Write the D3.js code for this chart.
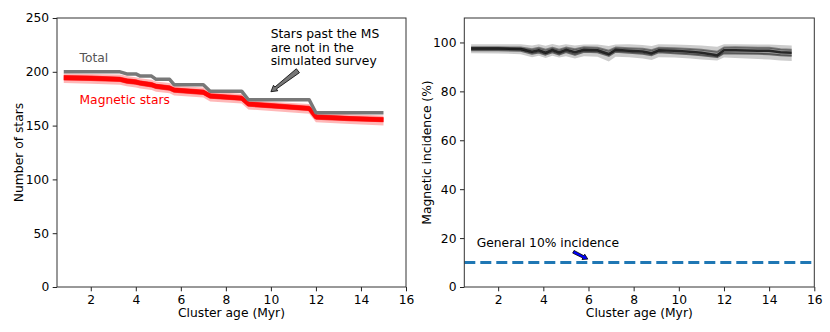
<!DOCTYPE html>
<html>
  <script src='https://d3js.org/d3.v7.min.js'></script>
  <style>
    body { margin: 0; background: #fff; }
    text { font-family: "DejaVu Sans", sans-serif; }
  </style>
  <body onload='init()'>
<script>
      // ---------------------------
      // DATA
      // ---------------------------
      // left panel: number of stars
      var ages     = [0.8, 2.0, 3.3, 3.6, 4.0, 4.2, 4.7, 4.9, 5.5, 5.7, 7.0, 7.3, 8.7, 9.0, 11.7, 12.0, 13.5, 15.0];
      var total    = [200, 200, 200, 198, 198, 196, 196, 193, 193, 188, 188, 182, 182, 174, 174, 162, 162, 162];
      var magMid   = [194.5, 194, 193, 191.5, 190.5, 189.5, 188, 186.5, 185, 183, 181, 177.5, 175.5, 170, 166, 158, 156.5, 155.5];
      var magHigh  = [198.5, 198, 197.5, 196, 195, 194, 192.5, 191, 189.5, 187, 185.5, 181.5, 179.5, 173.5, 170, 162, 160.5, 159.5];
      var magLow   = [189.5, 189, 188, 186.5, 185.5, 184.5, 183, 181.5, 180, 178, 176, 172.5, 170.5, 165, 161, 153, 151.5, 150];
      var magCoreHi = [197, 196.5, 195.5, 194, 193, 192, 190.5, 189, 187.5, 185.5, 183.5, 180, 178, 172.5, 168.5, 160.5, 159, 158];
      var magCoreLo = [192, 191.5, 190.5, 189, 188, 187, 185.5, 184, 182.5, 180.5, 178.5, 175, 173, 167.5, 163.5, 155.5, 154, 153];

      // right panel: magnetic incidence (%)
      var incAges  = [0.8, 2.0, 3.0, 3.5, 3.8, 4.1, 4.4, 4.7, 5.0, 5.4, 5.8, 6.4, 6.9, 7.2, 7.8, 8.4, 8.8, 9.1, 9.8, 10.5, 11.0, 11.7, 12.0, 12.5, 13.5, 14.0, 14.5, 15.0];
      var incMid   = [97.5, 97.5, 97.3, 96.2, 96.8, 95.8, 96.9, 95.9, 97.0, 96.0, 97.0, 96.8, 95.3, 97.0, 96.6, 96.3, 95.6, 96.8, 96.6, 96.2, 95.8, 94.8, 96.8, 96.8, 96.6, 96.6, 96.0, 95.8];
      var incLine2 = [96.8, 96.8, 96.6, 95.4, 95.9, 95.0, 96.0, 95.0, 96.1, 95.0, 96.2, 96.0, 94.5, 96.2, 95.8, 95.4, 94.8, 96.0, 95.6, 95.2, 94.8, 94.0, 95.6, 95.5, 95.4, 95.2, 94.8, 94.6];
      var incLine3 = [98.0, 98.0, 97.9, 97.2, 97.8, 97.0, 97.8, 97.0, 97.9, 97.2, 98.0, 97.8, 96.6, 97.9, 97.6, 97.4, 96.8, 97.8, 97.6, 97.3, 97.0, 96.2, 97.9, 98.0, 97.8, 97.8, 97.2, 97.0];
      var incHigh  = [99.3, 99.3, 99.3, 98.8, 99.3, 98.7, 99.4, 98.8, 99.3, 98.8, 99.2, 99.2, 98.6, 99.2, 99.3, 99.0, 98.6, 99.3, 99.2, 99.0, 98.8, 98.2, 99.3, 99.3, 99.2, 99.2, 99.0, 98.8];
      var incLow   = [95.6, 95.5, 95.2, 94.0, 94.6, 93.6, 94.6, 93.8, 94.4, 93.4, 94.4, 94.2, 92.2, 94.2, 94.0, 93.4, 92.8, 94.0, 93.8, 93.4, 93.0, 92.6, 93.8, 93.6, 93.2, 93.0, 92.6, 92.4];
      var generalIncidence = 10;

      var xTicks = [2, 4, 6, 8, 10, 12, 14, 16];
      var leftYTicks = [0, 50, 100, 150, 200, 250];
      var rightYTicks = [0, 20, 40, 60, 80, 100];

      function init() {
        // ---------------------------
        // CONSTANTS
        // ---------------------------
        var fontSize = 12.3;
        var tickLen = 4.3;
        var top = 18, bottom = 287;

        var svg = d3.select("body").append("svg")
          .attr("width", 830).attr("height", 332);

        function panel(left, right, yDomain, yTicks) {
          var x = d3.scaleLinear().domain([0.5, 16]).range([left, right]);
          var y = d3.scaleLinear().domain(yDomain).range([bottom, top]);
          var g = svg.append("g");
          var plot = g.append("g");

          g.append("g")
            .attr("transform", "translate(0," + bottom + ")")
            .call(d3.axisBottom(x).tickValues(xTicks).tickSize(tickLen).tickPadding(4).tickFormat(d3.format("d")))
            .call(function(a) { a.select(".domain").remove(); })
            .attr("font-size", fontSize).attr("font-family", "DejaVu Sans");
          g.append("g")
            .attr("transform", "translate(" + left + ",0)")
            .call(d3.axisLeft(y).tickValues(yTicks).tickSize(tickLen).tickPadding(3.5).tickFormat(d3.format("d")))
            .call(function(a) { a.select(".domain").remove(); })
            .attr("font-size", fontSize).attr("font-family", "DejaVu Sans");
          g.selectAll(".tick line").attr("stroke", "#222").attr("stroke-width", 1);
          g.selectAll(".tick text").attr("fill", "#000");

          g.append("rect")
            .attr("x", left).attr("y", top)
            .attr("width", right - left).attr("height", bottom - top)
            .attr("fill", "none").attr("stroke", "#333").attr("stroke-width", 1);

          g.append("text")
            .attr("text-anchor", "middle")
            .attr("x", (left + right) / 2).attr("y", 317)
            .attr("font-size", fontSize)
            .text("Cluster age (Myr)");
          return { x: x, y: y, g: g, plot: plot };
        }

        function band(p, xs, lo, hi, color, op) {
          var area = d3.area()
            .x(function(d, i) { return p.x(xs[i]); })
            .y0(function(d, i) { return p.y(lo[i]); })
            .y1(function(d, i) { return p.y(hi[i]); });
          p.plot.append("path").datum(xs).attr("d", area)
            .attr("fill", color).attr("fill-opacity", op);
        }

        function line(p, xs, ys, color, width, op) {
          var l = d3.line()
            .x(function(d, i) { return p.x(xs[i]); })
            .y(function(d, i) { return p.y(ys[i]); });
          p.plot.append("path").datum(xs).attr("d", l)
            .attr("fill", "none").attr("stroke", color)
            .attr("stroke-width", width).attr("stroke-opacity", op)
            .attr("stroke-linejoin", "round");
        }

        // arrow from (x1,y1) tail to (x2,y2) tip, pixel coords
        function arrow(g, x1, y1, x2, y2, fill, tailW, shaftW, headW, headL) {
          var dx = x2 - x1, dy = y2 - y1, L = Math.sqrt(dx * dx + dy * dy);
          var ux = dx / L, uy = dy / L, nx = -uy, ny = ux;
          var bx = x2 - ux * headL, by = y2 - uy * headL;
          var pts = [
            [x1 + nx * tailW / 2, y1 + ny * tailW / 2],
            [bx + nx * shaftW / 2, by + ny * shaftW / 2],
            [bx + nx * headW / 2, by + ny * headW / 2],
            [x2, y2],
            [bx - nx * headW / 2, by - ny * headW / 2],
            [bx - nx * shaftW / 2, by - ny * shaftW / 2],
            [x1 - nx * tailW / 2, y1 - ny * tailW / 2]
          ];
          g.append("polygon").attr("points", pts.map(function(p) { return p.join(","); }).join(" "))
            .attr("fill", fill).attr("stroke", "#000").attr("stroke-width", 0.8)
            .attr("stroke-linejoin", "miter");
        }

        // ---------------------------
        // LEFT PANEL
        // ---------------------------
        var L = panel(57, 406, [0, 250], leftYTicks);
        band(L, ages, magLow, magHigh, "#ff0000", 0.28);
        band(L, ages, magCoreLo, magCoreHi, "#ff0000", 0.7);
        line(L, ages, magMid, "#ff0000", 4.5, 0.9);
        line(L, ages, total, "#787878", 3.5, 1);

        L.g.append("text")
          .attr("text-anchor", "middle")
          .attr("transform", "translate(23.3," + (top + bottom) / 2 + ") rotate(-90)")
          .attr("font-size", fontSize)
          .text("Number of stars");

        L.g.append("text").attr("x", 79.5).attr("y", 61.5)
          .attr("font-size", fontSize).attr("fill", "#555").text("Total");
        L.g.append("text").attr("x", 79.5).attr("y", 104)
          .attr("font-size", fontSize).attr("fill", "#ff0000").text("Magnetic stars");

        ["Stars past the MS", "are not in the", "simulated survey"].forEach(function(t, i) {
          L.g.append("text").attr("x", 270.7).attr("y", 38 + i * 13.6)
            .attr("font-size", fontSize).text(t);
        });
        arrow(L.g, L.x(11.2), L.y(201), L.x(10.0), L.y(181.5), "#777", 5, 2.5, 7, 6);

        // ---------------------------
        // RIGHT PANEL
        // ---------------------------
        var R = panel(464.3, 814.3, [0, 110], rightYTicks);
        band(R, incAges, incLow, incHigh, "#000", 0.2);
        band(R, incAges, incLine2, incLine3, "#000", 0.25);
        line(R, incAges, incLine3, "#000", 2, 0.4);
        line(R, incAges, incLine2, "#000", 2, 0.5);
        line(R, incAges, incMid, "#000", 2.5, 0.75);

        R.plot.append("line")
          .attr("x1", R.x(0.5)).attr("x2", R.x(16))
          .attr("y1", R.y(generalIncidence)).attr("y2", R.y(generalIncidence))
          .attr("stroke", "#1f77b4").attr("stroke-width", 3)
          .attr("stroke-dasharray", "11,5");

        R.g.append("text")
          .attr("text-anchor", "middle")
          .attr("transform", "translate(430.5," + (top + bottom) / 2 + ") rotate(-90)")
          .attr("font-size", fontSize)
          .text("Magnetic incidence (%)");

        R.g.append("text").attr("x", 476.7).attr("y", 247.3)
          .attr("font-size", fontSize).text("General 10% incidence");
        arrow(R.g, R.x(5.33), R.y(14.4), R.x(5.97), R.y(11.4), "#0000ff", 3, 2.5, 6, 5);
      }
    </script>
  </body>
</html>
